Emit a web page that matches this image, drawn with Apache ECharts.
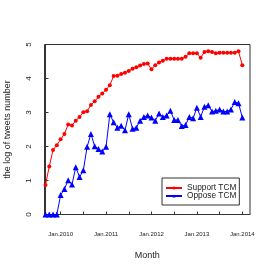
<!DOCTYPE html>
<html>
<head>
<meta charset="utf-8">
<script src="https://cdn.jsdelivr.net/npm/echarts@6/dist/echarts.min.js"></script>
<style>
html,body{margin:0;padding:0;background:#fff;}
#c{width:273px;height:272px;}
</style>
</head>
<body>
<div id="c"></div>
<script>
// Monthly data: first point = Sep 2009 (index 0), last = Jan 2014 (index 52)
var support = [0.87,1.41,1.90,2.04,2.21,2.37,2.65,2.62,2.76,2.87,3.01,3.04,3.22,3.33,3.46,3.56,3.67,3.80,4.07,4.08,4.13,4.17,4.22,4.29,4.33,4.38,4.43,
  4.44,4.27,4.39,4.47,4.52,4.58,4.58,4.58,4.58,4.58,4.64,4.74,4.74,4.74,4.61,4.78,4.80,4.78,4.74,4.76,4.76,4.76,4.76,4.76,4.80,4.39];
var oppose = [0,0,0,0,0.57,0.75,1.01,0.88,1.39,1.10,1.30,1.99,2.37,2.01,1.93,1.85,1.99,2.95,2.71,2.55,2.61,2.48,2.95,2.52,2.55,2.76,2.87,
  2.91,2.85,2.76,2.97,2.87,2.91,3.05,2.78,2.78,2.60,2.63,2.87,2.83,3.14,2.87,3.17,3.21,3.03,3.05,3.09,3.03,3.03,3.09,3.31,3.27,2.85];
var tickLabels = ['Jan.2010','Jan.2011','Jan.2012','Jan.2013','Jan.2014'];
var labelIndex = [4,16,28,40,52];
var tickIndex = [4,10,16,22,28,34,40,46,52];

function pairs(arr){ return arr.map(function(v,i){ return [i, v]; }); }

var chart = echarts.init(document.getElementById('c'), null, {renderer:'canvas'});
var font = 'Liberation Sans, Arial, Helvetica, sans-serif';
chart.setOption({
  animation: false,
  backgroundColor: '#fff',
  textStyle: {fontFamily: font},
  grid: {left: 44.5, right: 23, top: 44.5, bottom: 57.5, containLabel: false, outerBoundsMode: 'none',
    show: true, borderColor: '#333', borderWidth: 1, backgroundColor: 'transparent'},
  xAxis: {
    type: 'value', min: -0.26, max: 54.03,
    name: 'Month', nameLocation: 'middle', nameGap: 37,
    nameTextStyle: {fontSize: 9, color: '#222', fontFamily: font},
    axisLine: {show: true, lineStyle: {color: '#333', width: 1}},
    axisTick: {show: true, inside: true, length: 3, customValues: tickIndex, lineStyle: {color: '#333'}},
    axisLabel: {show: true, customValues: labelIndex, margin: 17, fontSize: 6, color: '#222', fontFamily: font,
      formatter: function(v){ var k = labelIndex.indexOf(Math.round(v)); return k >= 0 ? tickLabels[k] : ''; }},
    splitLine: {show: false}
  },
  yAxis: {
    type: 'value', min: 0, max: 5, interval: 1,
    name: 'the log of tweets number', nameLocation: 'middle', nameGap: 32,
    nameTextStyle: {fontSize: 9, color: '#222', fontFamily: font},
    axisLine: {show: true, lineStyle: {color: '#333', width: 1}},
    axisTick: {show: true, inside: true, length: 3, lineStyle: {color: '#333'}},
    axisLabel: {rotate: 90, margin: 12, fontSize: 8, color: '#222', fontFamily: font},
    splitLine: {show: false}
  },
  legend: {
    orient: 'vertical', left: 162, top: 178,
    borderColor: '#333', borderWidth: 1, borderRadius: 0,
    padding: [6, 3, 5, 3], itemGap: 0, itemWidth: 16, itemHeight: 4,
    textStyle: {fontSize: 8.3, color: '#222', fontFamily: font, padding: [0,0,0,0]},
    data: ['Support TCM', 'Oppose TCM']
  },
  series: [
    {name: 'Support TCM', type: 'line', data: pairs(support), symbol: 'circle', symbolSize: 4,
      lineStyle: {color: '#ff0000', width: 1}, itemStyle: {color: '#ff0000'}},
    {name: 'Oppose TCM', type: 'line', data: pairs(oppose), symbol: 'triangle', symbolSize: 6,
      lineStyle: {color: '#0000ff', width: 1}, itemStyle: {color: '#0000ff'}}
  ]
});
</script>
</body>
</html>
